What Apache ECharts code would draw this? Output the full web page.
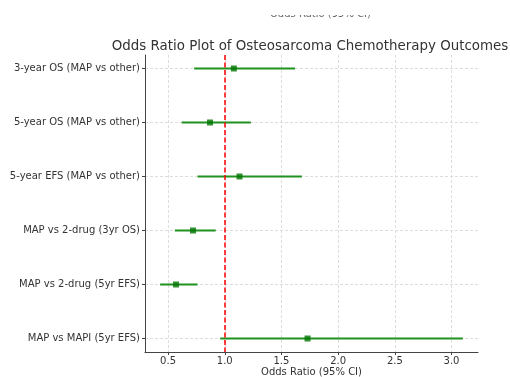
<!DOCTYPE html>
<html>
<head>
<meta charset="utf-8">
<script src="https://cdn.jsdelivr.net/npm/echarts@6/dist/echarts.min.js"></script>
<style>
  html, body { margin: 0; padding: 0; background: #fff; }
  #main { width: 510px; height: 377px; }
</style>
</head>
<body>
<div id="main"></div>
<script>
// comparisons, top to bottom
var labels = [
    '3-year OS (MAP vs other)',
    '5-year OS (MAP vs other)',
    '5-year EFS (MAP vs other)',
    'MAP vs 2-drug (3yr OS)',
    'MAP vs 2-drug (5yr EFS)',
    'MAP vs MAPI (5yr EFS)'
];
var oddsRatio = [1.08, 0.87, 1.13, 0.72, 0.57, 1.73];
var ciLower = [0.73, 0.62, 0.76, 0.56, 0.43, 0.96];
var ciUpper = [1.62, 1.23, 1.68, 0.92, 0.76, 3.10];
var refLine = 1;

var chart = echarts.init(document.getElementById('main'));

var points = [];
var bars = [];
labels.forEach(function (name, i) {
    points.push([oddsRatio[i], i]);
    bars.push([ciLower[i], ciUpper[i], i]);
});

// matplotlib-like 5% margins
var xMin = Math.min.apply(null, ciLower);
var xMax = Math.max.apply(null, ciUpper);
var pad = (xMax - xMin) * 0.05;

var textColor = '#333';
var font = 'DejaVu Sans';

var option = {
    animation: false,
    backgroundColor: '#fff',
    title: {
        text: 'Odds Ratio Plot of Osteosarcoma Chemotherapy Outcomes',
        left: 305,
        top: 35,
        textAlign: 'center',
        textStyle: { fontFamily: font, fontSize: 13.4, fontWeight: 'normal', color: textColor }
    },
    graphic: [
        // leftover label cut off at the top edge
        {
            type: 'text', left: 270, top: 9, z: 1,
            style: { text: 'Odds Ratio (95% CI)', fontFamily: font, fontSize: 10, fill: '#666' }
        },
        {
            type: 'rect', left: 0, top: 0, z: 2,
            shape: { width: 510, height: 15 },
            style: { fill: '#fff' }
        }
    ],
    grid: { left: 145, right: 32, top: 55, bottom: 25, outerBoundsMode: 'none' },
    xAxis: {
        type: 'value',
        min: xMin - pad,
        max: xMax + pad,
        splitNumber: 6,
        name: 'Odds Ratio (95% CI)',
        nameLocation: 'middle',
        nameGap: 15,
        nameMoveOverlap: false,
        nameTextStyle: { fontFamily: font, fontSize: 10, color: textColor },
        axisLine: { onZero: false, lineStyle: { color: '#444', width: 1 } },
        axisTick: { show: true, length: 3, lineStyle: { color: '#444' } },
        axisLabel: {
            fontFamily: font, fontSize: 10, color: textColor, margin: 4,
            showMinLabel: false, showMaxLabel: false,
            formatter: function (v) {
                return Math.abs(v * 2 - Math.round(v * 2)) < 1e-6 ? v.toFixed(1) : '';
            }
        },
        splitLine: {
            show: true, showMinLine: false, showMaxLine: false,
            lineStyle: { color: '#ddd', type: [3, 2], width: 1 }
        }
    },
    yAxis: {
        type: 'value',
        inverse: true,
        min: -0.25,
        max: labels.length - 1 + 0.25,
        axisLine: { show: true, onZero: false, lineStyle: { color: '#444', width: 1 } },
        axisTick: { show: true, length: 3, lineStyle: { color: '#444' } },
        axisLabel: {
            fontFamily: font, fontSize: 10, color: textColor, margin: 5,
            showMinLabel: false, showMaxLabel: false,
            formatter: function (v) {
                return Math.abs(v - Math.round(v)) < 1e-6 ? (labels[Math.round(v)] || '') : '';
            }
        },
        splitLine: {
            show: true, showMinLine: false, showMaxLine: false,
            lineStyle: { color: '#ddd', type: [3, 2], width: 1 }
        }
    },
    series: [
        {
            // confidence intervals
            type: 'custom',
            data: bars,
            renderItem: function (params, api) {
                var a = api.coord([api.value(0), api.value(2)]);
                var b = api.coord([api.value(1), api.value(2)]);
                return {
                    type: 'line',
                    shape: { x1: a[0], y1: a[1], x2: b[0], y2: b[1] },
                    style: { stroke: '#1f921f', lineWidth: 2 }
                };
            },
            z: 2
        },
        {
            type: 'scatter',
            data: points,
            symbol: 'rect',
            symbolSize: 6,
            itemStyle: { color: '#007400' },
            z: 4,
            markLine: {
                silent: true,
                symbol: 'none',
                label: { show: false },
                emphasis: { disabled: true },
                lineStyle: { color: '#ff0000', type: [5, 2.5], width: 1.5, opacity: 1 },
                data: [{ xAxis: refLine }],
                z: 3
            }
        }
    ]
};

chart.setOption(option);
</script>
</body>
</html>
